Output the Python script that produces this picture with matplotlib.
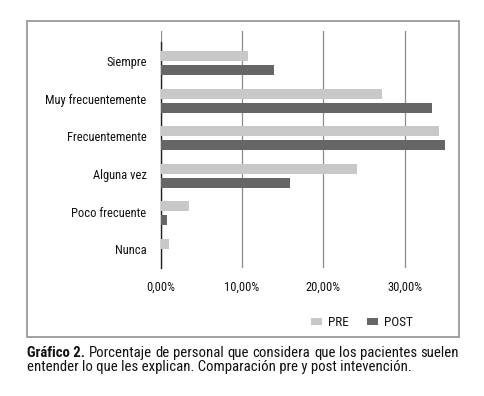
import matplotlib
matplotlib.use("Agg")
import matplotlib.pyplot as plt
from matplotlib.patches import Rectangle
from matplotlib.ticker import FuncFormatter
import numpy as np

categories = ["Siempre", "Muy frecuentemente", "Frecuentemente", "Alguna vez", "Poco frecuente", "Nunca"]
pre = [0.1077, 0.272, 0.342, 0.242, 0.035, 0.0108]
post = [0.140, 0.334, 0.349, 0.1585, 0.0076, 0.0]
xticks = [0.0, 0.1, 0.2, 0.3]
series_names = ["PRE", "POST"]
caption_bold = "Gráfico 2."
caption_line1 = "Porcentaje de personal que considera que los pacientes suelen"
caption_line2 = "entender lo que les explican. Comparación pre y post intevención."

FONT = ["Roboto Condensed", "DejaVu Sans"]
plt.rcParams['font.family'] = FONT

W, H = 484, 396
fig = plt.figure(figsize=(W / 100, H / 100), dpi=100)

# frame around chart
fig.patches.append(Rectangle((27 / W, 1 - 337 / H), (459 - 27) / W, (337 - 21) / H,
                             transform=fig.transFigure, fill=False, edgecolor="#9a9a9a", lw=1.3))

ax = fig.add_axes([160.5 / W, 1 - 268 / H, 293 / W, (268 - 31) / H])
n = len(categories)
y = np.arange(n)[::-1]
h = 0.265
off = 0.186
c_pre, c_post = "#c8c8c8", "#666666"
ax.barh(y + off - 0.05, pre, height=h, color=c_pre, label=series_names[0], zorder=3)
ax.barh(y - off - 0.05, post, height=h, color=c_post, label=series_names[1], zorder=3)

ax.set_xlim(0, 0.36)
ax.set_ylim(-0.5, 5.8)
ax.set_yticks(y)
ax.set_yticklabels(categories, fontsize=9, color="#111111")
ax.set_xticks(xticks)
ax.xaxis.set_major_formatter(FuncFormatter(lambda v, p: f"{v*100:.2f}%".replace(".", ",")))
ax.tick_params(axis="x", labelsize=9, length=0, pad=9, colors="#111111")
ax.tick_params(axis="y", length=0, pad=10)
for s in ["top", "right", "bottom"]:
    ax.spines[s].set_visible(False)
ax.spines["left"].set_bounds(-0.5, 5.5)
ax.spines["left"].set_color("#222222")
ax.spines["left"].set_linewidth(1.0)
ax.grid(axis="x", color="#8c8c8c", lw=0.9, zorder=0)
ax.grid(axis="y", visible=False)

leg = fig.legend(loc="center", bbox_to_anchor=(362 / W, 1 - 323 / H), ncol=2, frameon=False,
                 fontsize=9.5, handlelength=0.85, handleheight=0.45, columnspacing=1.35,
                 handletextpad=0.45)
for txt in leg.get_texts():
    txt.set_color("#111111")

# caption, first line justified between x=27 and x=459
renderer = fig.canvas.get_renderer()
cap_fs = 10.6
cap_color = "#111111"
y1 = 1 - 357 / H
y2 = 1 - 371 / H
words = [(caption_bold, "bold")] + [(w, "normal") for w in caption_line1.split()]
texts = []
for w, wt in words:
    t = fig.text(0, y1, w, fontsize=cap_fs, fontweight=wt, va="baseline", color=cap_color)
    texts.append(t)
widths = [t.get_window_extent(renderer).width for t in texts]
total_w = 459 - 27
gap = (total_w - sum(widths)) / (len(words) - 1)
x = 27.0
for t, wd in zip(texts, widths):
    t.set_x(round(x) / W)
    x += wd + gap
fig.text(27 / W, y2, caption_line2, fontsize=cap_fs, va="baseline", color=cap_color)

fig.savefig("out.png", dpi=100)
